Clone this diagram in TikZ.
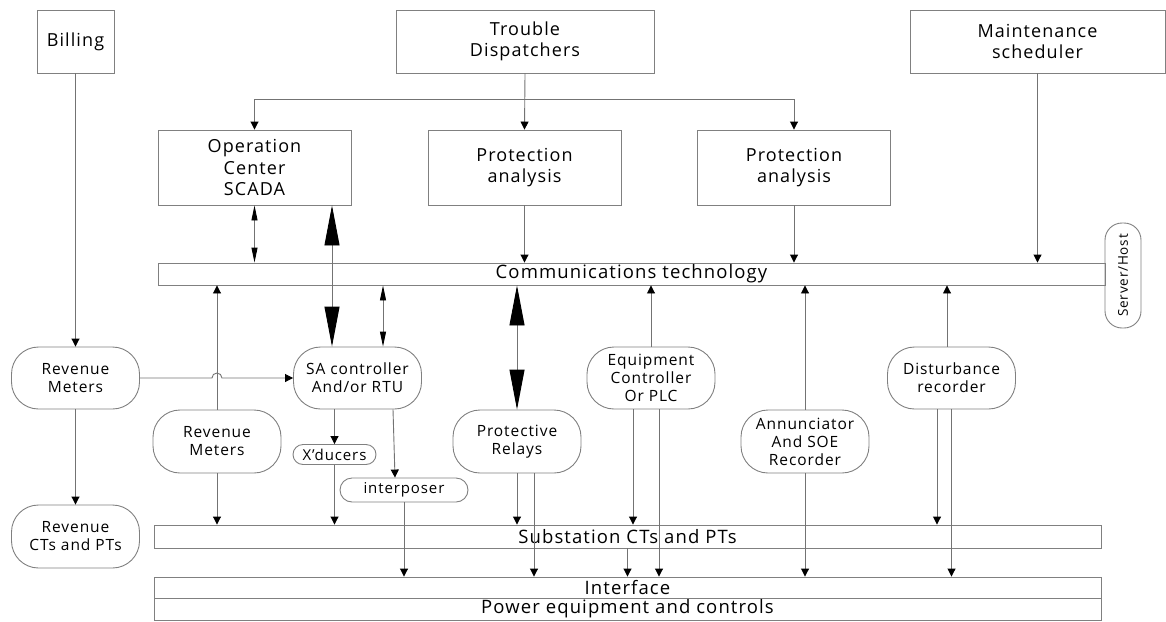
\documentclass[tikz,border=0pt]{standalone}
\usepackage{fontspec}
\setmainfont[LetterSpace=6]{Open Sans}
\usetikzlibrary{arrows.meta}
\begin{document}
\begin{tikzpicture}[x=1pt, y=-1pt]
    \tikzset{box/.style={draw=black!50, line width=0.9pt, minimum width=193pt, minimum height=75pt, inner sep=0pt, align=center, font=\fontsize{18}{21.5}\selectfont}}
    \tikzset{pill/.style={draw=black!50, line width=0.9pt, rounded corners=27pt, minimum width=128pt, minimum height=62pt, inner sep=0pt, align=center, font=\fontsize{15.5}{18}\selectfont}}
    \tikzset{bar/.style={draw=black!50, line width=0.9pt, minimum width=947pt, inner sep=0pt, font=\fontsize{18.5}{18}\selectfont}}
    \tikzset{wire/.style={draw=black!55, line width=0.9pt}}
    \tikzset{link/.style={wire, -{Triangle[width=8pt, length=8pt, color=black]}}}
    \tikzset{both/.style={wire, {Triangle[width=6pt, length=15pt, color=black]}-{Triangle[width=6pt, length=15pt, color=black]}}}
    \tikzset{fat/.style={wire, {Triangle[width=15pt, length=40pt, color=black]}-{Triangle[width=15pt, length=40pt, color=black]}}}
    \useasboundingbox (0, 0) rectangle (1166, 621);

    \node[box, minimum width=77pt, minimum height=63pt] (billing) at (75.5, 41.5) {Billing};
    \node[box, minimum width=258pt, minimum height=63pt] (trouble) at (525, 41.5) {Trouble\\Dispatchers};
    \node[box, minimum width=255pt, minimum height=63pt] (maint) at (1037.5, 41.5) {Maintenance\\scheduler};
    \node[box] (scada) at (254.5, 167.5) {Operation\\Center\\SCADA};
    \node[box] (protA) at (524.5, 167.5) {Protection\\analysis};
    \node[box] (protB) at (794, 167.5) {Protection\\analysis};

    \node[bar, minimum height=22pt] (comm) at (631.5, 274) {Communications technology};
    \node[draw=black!50, line width=0.9pt, rounded corners=17pt, minimum width=105pt, minimum height=36pt, inner sep=0pt, rotate=90, font=\fontsize{13.5}{16}\selectfont] (server) at (1123, 275.5) {Server/Host};

    \node[pill] (revA) at (75.5, 378) {Revenue\\Meters};
    \node[pill] (sactl) at (357.5, 378) {SA controller\\And/or RTU};
    \node[pill] (eqctl) at (651, 378) {Equipment\\Controller\\Or PLC};
    \node[pill] (dist) at (951.5, 378) {Disturbance\\recorder};
    \node[pill, minimum height=63pt] (revB) at (217, 441.5) {Revenue\\Meters};
    \node[pill, minimum height=63pt] (relays) at (517, 441.5) {Protective\\Relays};
    \node[pill, minimum height=63pt] (annun) at (805, 441.5) {Annunciator\\And SOE\\Recorder};
    \node[pill, minimum height=63pt] (revct) at (75.5, 536.5) {Revenue\\CTs and PTs};
    \node[pill, rounded corners=10pt, minimum width=83pt, minimum height=20pt, font=\fontsize{15}{16}\selectfont] (xduc) at (334.5, 454.5) {X'ducers};
    \node[pill, rounded corners=12pt, minimum width=128pt, minimum height=24pt, font=\fontsize{15}{16}\selectfont] (interp) at (404, 490) {interposer};

    \node[bar, minimum height=23pt] (subst) at (627.5, 536.5) {Substation CTs and PTs};
    \node[bar, minimum height=21pt] (iface) at (627.5, 587.5) {Interface};
    \node[bar, minimum height=22pt] (power) at (627.5, 609) {Power equipment and controls};

    \coordinate (split) at (525, 99);
    \draw[link] (trouble.south) -- (protA.north);
    \draw[link] (split) -| (scada.north);
    \draw[link] (split) -| (protB.north);
    \draw[link] (protA.south) -- (protA.south |- comm.north);
    \draw[link] (protB.south) -- (protB.south |- comm.north);
    \draw[link] (maint.south) -- (maint.south |- comm.north);
    \draw[both] (scada.south) -- (scada.south |- comm.north);
    \draw[fat] ([xshift=77.5pt]scada.south) -- ([xshift=77.5pt]scada.south |- sactl.north);
    \draw[both] ([xshift=25.5pt]sactl.north |- comm.south) -- ([xshift=25.5pt]sactl.north);

    \draw[link] (billing) -- (revA);
    \draw[link] (revA) -- (revct);
    \draw[link] (revA.east) -- ++(72, 0) arc[start angle=180, end angle=0, radius=5pt] -- (sactl.west);
    \draw[link] (revB.north) -- (revB.north |- comm.south);
    \draw[link] (revB.south) -- (revB.south |- subst.north);

    \draw[link] (sactl.south -| xduc.north) -- (xduc.north);
    \draw[link] (xduc.south) -- (xduc.south |- subst.north);
    \draw[link] ([xshift=35.5pt]sactl.south) -- ([xshift=-9pt]interp.north);
    \draw[link] (interp.south) -- (interp.south |- iface.north);

    \draw[fat] (relays.north |- comm.south) -- (relays.north);
    \draw[link] (relays.south) -- (relays.south |- subst.north);
    \draw[link] ([xshift=17pt]relays.south) -- ([xshift=17pt]relays.south |- iface.north);

    \draw[link] (eqctl.north) -- (eqctl.north |- comm.south);
    \draw[link] ([xshift=-18pt]eqctl.south) -- ([xshift=-18pt]eqctl.south |- subst.north);
    \draw[link] ([xshift=8pt]eqctl.south) -- ([xshift=8pt]eqctl.south |- iface.north);
    \draw[link] (subst.south) -- (subst.south |- iface.north);

    \draw[link] (annun.north) -- (annun.north |- comm.south);
    \draw[link] (annun.south) -- (annun.south |- iface.north);

    \draw[link] ([xshift=-4.5pt]dist.north) -- ([xshift=-4.5pt]dist.north |- comm.south);
    \draw[link] ([xshift=-14.5pt]dist.south) -- ([xshift=-14.5pt]dist.south |- subst.north);
    \draw[link] (dist.south) -- (dist.south |- iface.north);
\end{tikzpicture}
\end{document}
